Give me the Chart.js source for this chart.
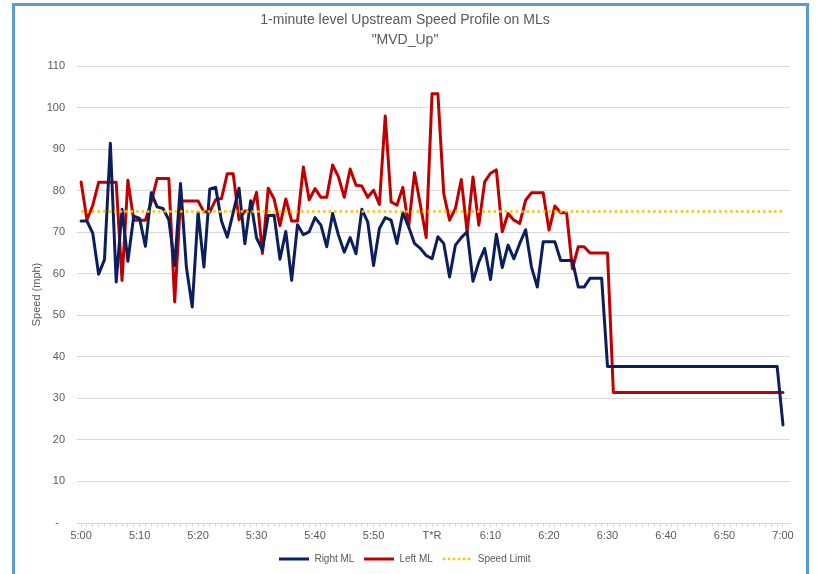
<!DOCTYPE html>
<html><head><meta charset="utf-8">
<script src="https://cdn.jsdelivr.net/npm/chart.js@4.4.1/dist/chart.umd.min.js"></script>
<style>
html,body{margin:0;padding:0;background:#fff;width:830px;height:574px;overflow:hidden;}
#frame{position:absolute;left:12px;top:3px;width:797px;height:640px;border:3px solid #5B9BD5;box-sizing:border-box;}
#wrap{position:absolute;left:0;top:0;width:830px;height:574px;}
</style></head><body>
<div id="frame"></div>
<div id="wrap"><canvas id="c" width="830" height="574"></canvas></div>
<script>
// Category axis: 1-minute intervals 5:00 .. 7:00
const startMinute = 0, endMinute = 120;
const minutes = [];
for (let m = startMinute; m <= endMinute; m++) minutes.push(m);

// X tick labels every 10 minutes
const tickLabels = ['5:00','5:10','5:20','5:30','5:40','5:50','T*R','6:10','6:20','6:30','6:40','6:50','7:00'];

const rightML = [
  72.7,72.7,69.7,59.9,63.4,91.4,58,75.5,63,73.9,
  73.3,66.6,79.5,76.1,75.7,73,62,81.7,61.6,52,
  74.8,61.6,80.4,80.8,72.7,68.8,74.7,80.6,67.2,77.6,
  68.6,65.7,74,74.1,63.5,70.2,58.4,71.8,69.4,70.1,
  73.5,71.7,66.5,74.5,69.3,65.2,68.7,64.8,75.5,72.5,
  62,70.9,73.5,72.9,67.3,74.7,71.3,67.3,66.1,64.4,
  63.6,68.9,67.3,59.2,66.9,68.7,70.1,58.2,62.8,66.1,
  58.6,69.5,61.5,66.9,63.6,67.3,70.6,61.6,56.8,67.7,
  67.7,67.7,63.2,63.2,63.2,56.8,56.8,58.9,58.9,58.9,
  37.7,37.7,37.7,37.7,37.7,37.7,37.7,37.7,37.7,37.7,
  37.7,37.7,37.7,37.7,37.7,37.7,37.7,37.7,37.7,37.7,
  37.7,37.7,37.7,37.7,37.7,37.7,37.7,37.7,37.7,37.7,
  23.6
];
const leftML = [
  82.1,73,76.5,82,82,82,82,58.4,82.5,72.9,
  72.9,72.9,77.3,82.9,82.9,82.9,53.2,77.5,77.5,77.5,
  77.5,74.9,74.9,77.8,78.1,84.1,84.1,73,75.1,75.1,
  79.6,64.9,80.6,78,71.6,78,72.7,72.7,85.7,77.8,
  80.5,78.4,78.4,86.2,83.3,78.4,85.2,81.3,81.1,78.4,
  80.1,76.7,98,77.3,76.5,80.8,71.3,84.3,76.6,68.7,
  103.3,103.3,79.3,72.9,75.7,82.7,70.1,83.3,71.7,82.1,
  84.2,85,70.1,74.5,72.9,72.1,77.7,79.5,79.5,79.5,
  70.5,76.3,74.7,74.7,61.2,66.5,66.5,65,65,65,
  65,31.4,31.4,31.4,31.4,31.4,31.4,31.4,31.4,31.4,
  31.4,31.4,31.4,31.4,31.4,31.4,31.4,31.4,31.4,31.4,
  31.4,31.4,31.4,31.4,31.4,31.4,31.4,31.4,31.4,31.4,
  31.4
];
const speedLimit = 75;

const FONT = "'Liberation Sans Narrow', 'Liberation Sans', 'Open Sans', sans-serif";
const GRAY = '#595959';
const GRID = '#D9D9D9';
const NAVY = '#0B1F5C', RED = '#C00000', GOLD = '#FFC000';

const toXY = arr => arr.map((v, i) => ({x: minutes[i], y: v}));

// small legend swatches drawn as line samples
function swatch(color, width, dash) {
  const c = document.createElement('canvas');
  c.width = 30; c.height = 4;
  const g = c.getContext('2d');
  g.strokeStyle = color; g.lineWidth = width;
  g.setLineDash(dash);
  g.beginPath(); g.moveTo(0, 2); g.lineTo(30, 2); g.stroke();
  return c;
}
const swatches = [swatch(NAVY, 3, []), swatch(RED, 3, []), swatch(GOLD, 2.5, [2.5, 2.5])];

new Chart(document.getElementById('c'), {
  type: 'line',
  data: {
    datasets: [
      {label: 'Right ML', data: toXY(rightML), borderColor: NAVY, backgroundColor: NAVY, borderWidth: 3, borderJoinStyle: 'round', borderCapStyle: 'round', pointRadius: 0, tension: 0, order: 1},
      {label: 'Left ML', data: toXY(leftML), borderColor: RED, backgroundColor: RED, borderWidth: 3, borderJoinStyle: 'round', borderCapStyle: 'round', pointRadius: 0, tension: 0, order: 2},
      {label: 'Speed Limit', data: [{x: minutes[0], y: speedLimit}, {x: minutes[minutes.length-1], y: speedLimit}], borderColor: GOLD, backgroundColor: GOLD, borderWidth: 2.5, borderDash: [2.5, 3], pointRadius: 0, tension: 0, order: 0}
    ]
  },
  options: {
    responsive: false,
    animation: false,
    events: [],
    layout: {padding: {left: 20, right: 40, top: 0, bottom: 0}},
    plugins: {
      title: {
        display: true,
        text: ['1-minute level Upstream Speed Profile on MLs', '"MVD_Up"'],
        color: GRAY,
        font: {family: FONT, size: 14, weight: 'normal', lineHeight: 1.43},
        padding: {top: 10, bottom: 16}
      },
      legend: {
        position: 'bottom',
        labels: {
          usePointStyle: true,
          pointStyleWidth: 30,
          color: GRAY,
          font: {family: FONT, size: 10},
          padding: 10,
          generateLabels: chart => chart.data.datasets.map((ds, i) => ({
            text: ds.label,
            datasetIndex: i,
            fillStyle: ds.borderColor,
            strokeStyle: ds.borderColor,
            fontColor: GRAY,
            lineWidth: 0,
            pointStyle: swatches[i],
            hidden: false
          }))
        }
      },
      tooltip: {enabled: false}
    },
    scales: {
      x: {
        type: 'linear',
        min: -0.7,
        max: 121.2,
        afterBuildTicks: s => { s.ticks = minutes.map(m => ({value: m})); },
        afterFit: s => { s.height = 21; },
        grid: {drawOnChartArea: false, drawTicks: true, tickLength: 4, color: GRID},
        border: {display: true, color: GRID},
        ticks: {
          autoSkip: false,
          maxRotation: 0,
          padding: 2,
          color: GRAY,
          font: {family: FONT, size: 11},
          callback: v => (v % 10 === 0 ? tickLabels[v / 10] : '')
        }
      },
      y: {
        min: 0,
        max: 110,
        afterFit: s => { s.width = 57; },
        grid: {color: GRID, drawTicks: false},
        border: {display: false},
        ticks: {
          stepSize: 10,
          padding: 12,
          color: GRAY,
          font: {family: FONT, size: 11},
          callback: v => (v === 0 ? '-  ' : v)
        },
        title: {
          display: true,
          text: 'Speed (mph)',
          color: GRAY,
          font: {family: FONT, size: 11},
          padding: {top: 10, bottom: 0}
        }
      }
    }
  }
});
</script>
</body></html>
